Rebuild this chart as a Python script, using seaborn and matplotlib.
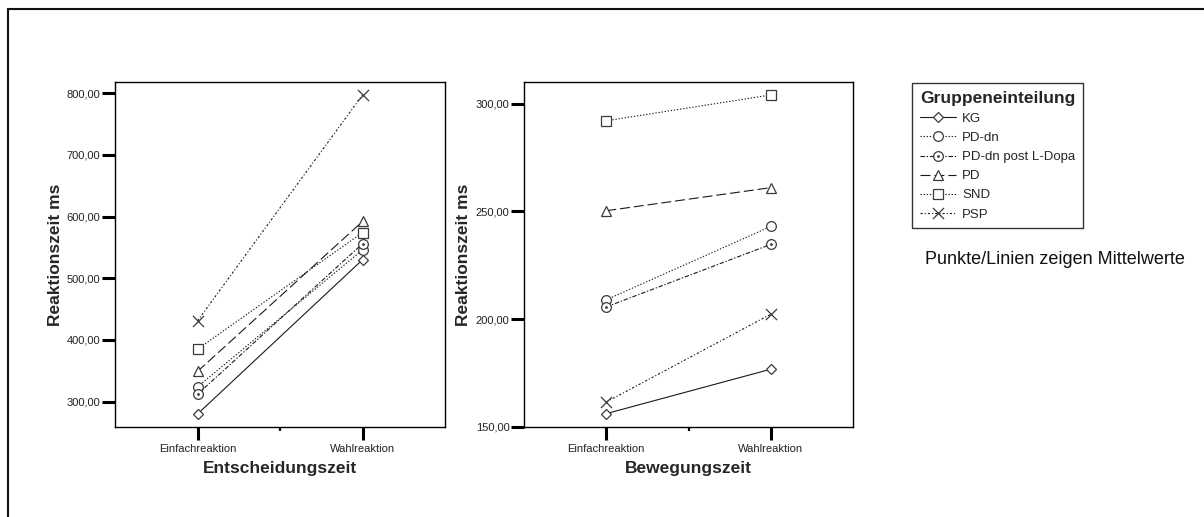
import numpy as np
import pandas as pd
import seaborn as sns
import matplotlib.pyplot as plt
from matplotlib.path import Path
from matplotlib.lines import Line2D
from matplotlib.ticker import FixedLocator, FuncFormatter

# --- data: group means (ms) for simple vs. choice reaction ---
bedingungen = ["Einfachreaktion", "Wahlreaktion"]
gruppen = ["KG", "PD-dn", "PD-dn post L-Dopa", "PD", "SND", "PSP"]

entscheidung_einfach = [280, 324, 312, 349, 385, 431]
entscheidung_wahl = [530, 546, 556, 592, 574, 797]

bewegung_einfach = [156.2, 209.0, 205.7, 250.3, 292.0, 161.6]
bewegung_wahl = [176.8, 243.0, 234.7, 261.0, 304.0, 202.3]

y_ticks_entscheidung = [300, 400, 500, 600, 700, 800]
y_ticks_bewegung = [150, 200, 250, 300]


def long_table(einfach, wahl):
    rows = []
    for g, a, b in zip(gruppen, einfach, wahl):
        rows.append({"Gruppe": g, "Bedingung": bedingungen[0], "Zeit": a})
        rows.append({"Gruppe": g, "Bedingung": bedingungen[1], "Zeit": b})
    return pd.DataFrame(rows)


df_ent = long_table(entscheidung_einfach, entscheidung_wahl)
df_bew = long_table(bewegung_einfach, bewegung_wahl)

# --- styling ---
sns.set_theme(style="ticks")
plt.rcParams["font.family"] = ["Liberation Sans", "DejaVu Sans"]

# circle with a centre dot, and a cross drawn as a path so all markers share one type
odot = Path.make_compound_path(Path.unit_circle(), Path.circle((0, 0), 0.16))
cross = Path([(-1, -1), (1, 1), (-1, 1), (1, -1)],
             [Path.MOVETO, Path.LINETO, Path.MOVETO, Path.LINETO])
markers = {"KG": "D", "PD-dn": "o", "PD-dn post L-Dopa": odot,
           "PD": "^", "SND": "s", "PSP": cross}
marker_sizes = {"KG": 5.5, "PD-dn": 7, "PD-dn post L-Dopa": 7,
                "PD": 7, "SND": 7, "PSP": 8}
dashes = {"KG": "", "PD-dn": (1.2, 1.6), "PD-dn post L-Dopa": (4, 1.6, 1.2, 1.6),
          "PD": (9, 3.5), "SND": (1.2, 1.6), "PSP": (2.0, 1.8, 1.0, 1.8)}
palette = {g: "#1a1a1a" for g in gruppen}
edge = "#3a3a3a"
line_w = 0.8

W, H = 1204, 517
fig = plt.figure(figsize=(W / 100, H / 100), dpi=100)
fig.patch.set_facecolor("white")


def px_axes(x0, x1, top, bottom):
    return fig.add_axes([x0 / W, 1 - bottom / H, (x1 - x0) / W, (bottom - top) / H])


ax1 = px_axes(115, 445, 82, 427)
ax2 = px_axes(524, 853, 82, 427)

comma = FuncFormatter(lambda v, p: f"{v:.2f}".replace(".", ","))

for ax, df, yt, ylim, xlabel in [
    (ax1, df_ent, y_ticks_entscheidung, (259, 818), "Entscheidungszeit"),
    (ax2, df_bew, y_ticks_bewegung, (150, 310), "Bewegungszeit"),
]:
    sns.lineplot(data=df, x="Bedingung", y="Zeit", hue="Gruppe", style="Gruppe",
                 hue_order=gruppen, style_order=gruppen, palette=palette,
                 markers=markers, dashes=dashes, legend=False, ax=ax,
                 linewidth=line_w, markersize=7, markerfacecolor="white",
                 markeredgecolor=edge, markeredgewidth=0.9)
    for line, g in zip(ax.get_lines(), gruppen):
        line.set_markersize(marker_sizes[g])
    ax.set_xlim(-0.5, 1.5)
    ax.set_ylim(*ylim)
    ax.yaxis.set_major_locator(FixedLocator(yt))
    ax.yaxis.set_major_formatter(comma)
    ax.xaxis.set_minor_locator(FixedLocator([0.5]))
    ax.tick_params(axis="both", which="major", length=9.5, width=2.2,
                   color="black", labelsize=8, labelcolor="#222")
    ax.tick_params(axis="y", which="major", pad=1)
    ax.tick_params(axis="x", which="major", pad=3)
    ax.tick_params(axis="x", which="minor", length=3, width=1.6, color="black")
    for s in ax.spines.values():
        s.set_visible(True)
        s.set_linewidth(1.0)
        s.set_color("black")
    ax.set_xlabel(xlabel, fontsize=12.5, fontweight="bold", labelpad=5)
    ax.set_ylabel("Reaktionszeit ms", fontsize=12.5, fontweight="bold", labelpad=3)

# legend built from the same marker/dash settings
handles = []
for g in gruppen:
    d = dashes[g]
    h = Line2D([], [], color="#1a1a1a", linewidth=line_w, marker=markers[g],
               markersize=marker_sizes[g], markerfacecolor="white",
               markeredgecolor=edge, markeredgewidth=0.9)
    if d:
        h.set_dashes(d)
    handles.append(h)

leg = fig.legend(handles, gruppen, loc="upper left",
                 bbox_to_anchor=(912 / W, 1 - 83 / H), bbox_transform=fig.transFigure,
                 borderaxespad=0, frameon=True, fancybox=False, shadow=False,
                 title="Gruppeneinteilung",
                 title_fontproperties={"weight": "bold", "size": 12.5},
                 fontsize=9.5, handlelength=2.7, handletextpad=0.5,
                 labelspacing=0.52, borderpad=0.6)
leg._legend_box.align = "left"
leg.get_frame().set_edgecolor("black")
leg.get_frame().set_linewidth(1.0)

fig.text(925 / W, 1 - 260 / H, "Punkte/Linien zeigen Mittelwerte",
         fontsize=13, va="center", ha="left", color="#111")

# outer frame (left and top edges)
fig.add_artist(Line2D([7.5 / W, 7.5 / W], [0, 1 - 9 / H], transform=fig.transFigure,
                      color="#111", linewidth=1.5))
fig.add_artist(Line2D([7.5 / W, 1], [1 - 9 / H, 1 - 9 / H], transform=fig.transFigure,
                      color="#111", linewidth=1.5))

fig.savefig("out.png", dpi=100, facecolor="white")
